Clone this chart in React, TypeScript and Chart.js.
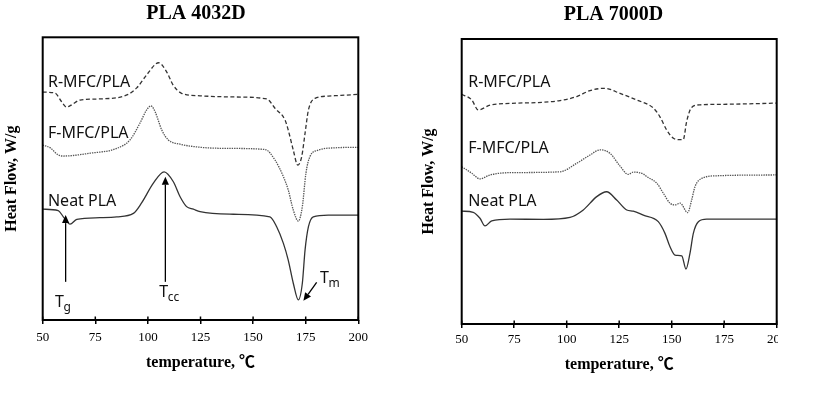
import { useEffect, useRef } from "react";
import { Chart, registerables } from "chart.js";

Chart.register(...registerables);

// ---------- PLA 4032D (temperature °C, heat flow arb. units) ----------
const t4032R = [50, 55.8, 59, 61.4, 63.5, 67.7, 77, 90, 94.7, 99.4, 105.1, 108.9, 112, 116, 124.8, 140.5, 156.5, 160.4, 165.2, 166.7, 169.1, 171.2, 173.1, 174.7, 176.3, 179.4, 185.7, 200];
const v4032R = [8.06, 8.03, 7.72, 7.53, 7.6, 7.78, 7.82, 7.96, 8.21, 8.67, 9.1, 8.78, 8.31, 8.02, 7.93, 7.89, 7.82, 7.49, 7.07, 6.72, 6.01, 5.48, 5.78, 6.61, 7.43, 7.84, 7.92, 7.98];

const t4032F = [50, 54, 56.7, 59.8, 72.5, 85.2, 91.5, 96.2, 99.4, 101.5, 103.4, 106.6, 109.7, 115.3, 124.8, 138.2, 155.7, 160.4, 164.4, 166.7, 169.1, 171.5, 173.4, 175.1, 177, 181, 188.9, 200];
const v4032F = [6.19, 6.07, 5.87, 5.8, 5.9, 6.07, 6.37, 6.96, 7.43, 7.57, 7.37, 6.72, 6.37, 6.22, 6.11, 6.07, 6.03, 5.66, 5.07, 4.6, 3.89, 3.5, 4.01, 5.19, 5.78, 6.01, 6.09, 6.11];

const t4032N = [50, 57.4, 59.8, 63, 66.2, 77.2, 85.2, 93.1, 97, 102.6, 107.7, 112.1, 115.3, 118.4, 121.6, 124.8, 140.6, 158, 161.2, 164.4, 166.7, 169.1, 171.5, 173.4, 174.7, 176.3, 178.6, 185.7, 200];
const v4032N = [3.92, 3.87, 3.65, 3.39, 3.56, 3.62, 3.65, 3.77, 4.14, 4.84, 5.24, 4.89, 4.36, 4.01, 3.92, 3.83, 3.74, 3.65, 3.3, 2.71, 2.12, 1.3, 0.71, 1.3, 2.48, 3.3, 3.65, 3.71, 3.71];

// ---------- PLA 7000D ----------
const t7000R = [50, 54.8, 57.9, 63.5, 73, 88.9, 96.8, 104.8, 111.1, 118.2, 125.4, 133.3, 141.2, 144.4, 147.6, 150.8, 154, 155.5, 157.1, 159.5, 163.5, 176.2, 200];
const v7000R = [8.06, 7.86, 7.51, 7.68, 7.74, 7.78, 7.84, 7.98, 8.19, 8.27, 8.09, 7.86, 7.58, 7.27, 6.81, 6.52, 6.47, 6.47, 7.1, 7.6, 7.69, 7.71, 7.75];

const t7000F = [50, 54.8, 58.7, 63.5, 73, 96.8, 104.8, 111.1, 115.9, 120.6, 125.4, 129.3, 131.7, 136.5, 138.1, 142.9, 146, 149.2, 151.6, 154, 157.6, 159.5, 161.1, 164.3, 171.4, 200];
const v7000F = [5.52, 5.29, 5.09, 5.23, 5.31, 5.34, 5.64, 5.93, 6.11, 5.99, 5.54, 5.25, 5.33, 5.26, 5.17, 4.94, 4.59, 4.24, 4.18, 4.24, 3.91, 4.35, 4.82, 5.11, 5.2, 5.23];

const t7000N = [50, 55.5, 58.7, 61.1, 64.3, 73, 88.9, 101.6, 107.9, 114.3, 119, 123.8, 128.6, 131.7, 136.5, 143.6, 146.8, 149.2, 151.6, 154.8, 156.8, 158.7, 160.3, 162.7, 166.7, 200];
const v7000N = [3.96, 3.92, 3.71, 3.44, 3.62, 3.68, 3.67, 3.74, 4.0, 4.47, 4.64, 4.35, 4.0, 3.96, 3.82, 3.59, 3.18, 2.71, 2.42, 2.39, 1.93, 2.48, 3.18, 3.59, 3.68, 3.68];

// ---------- Texts ----------
const seriesNames = ["R-MFC/PLA", "F-MFC/PLA", "Neat PLA"];
const panelTitles = ["PLA 4032D", "PLA 7000D"];
const xTitle = "temperature, ℃";
const yTitle = "Heat Flow, W/g";
const xMin = 50;
const xMax = 200;
const xStep = 25;

const SERIF = '"Liberation Serif", "Times New Roman", "Noto Sans CJK KR", serif';
const SANS = '"Noto Sans", "Open Sans", sans-serif';

const zip = (t: number[], v: number[]) => t.map((x, i) => ({ x, y: v[i] }));

const decorPlugin = {
  id: "decor",
  afterDatasetsDraw(chart: any, _args: any, opts: any) {
    const { ctx, chartArea: a, scales } = chart;
    const xs = scales.x;
    const ys = scales.y;
    ctx.save();
    // frame
    ctx.strokeStyle = "#000";
    ctx.lineWidth = 2;
    ctx.strokeRect(a.left, a.top, a.right - a.left, a.bottom - a.top);
    // inner part of crossing tick marks
    ctx.lineWidth = 1.5;
    for (const t of xs.ticks) {
      const px = xs.getPixelForValue(t.value);
      ctx.beginPath();
      ctx.moveTo(px, a.bottom - 3.5);
      ctx.lineTo(px, a.bottom);
      ctx.stroke();
    }
    // heading
    ctx.fillStyle = "#000";
    ctx.font = `bold 20px ${SERIF}`;
    ctx.textAlign = "center";
    ctx.textBaseline = "middle";
    ctx.fillText(opts.heading, (a.left + a.right) / 2 + opts.headingDx, opts.headingY);
    // series labels
    ctx.font = `16px ${SANS}`;
    ctx.textAlign = "left";
    ctx.textBaseline = "alphabetic";
    ctx.fillStyle = "#111";
    for (const l of opts.labels) {
      ctx.fillText(l.text, xs.getPixelForValue(l.x), ys.getPixelForValue(l.y));
    }
    // arrows
    ctx.strokeStyle = "#000";
    ctx.fillStyle = "#000";
    ctx.lineWidth = 1.3;
    for (const ar of opts.arrows || []) {
      const x1 = xs.getPixelForValue(ar.x1);
      const y1 = ys.getPixelForValue(ar.y1);
      const x2 = xs.getPixelForValue(ar.x2);
      const y2 = ys.getPixelForValue(ar.y2);
      const ang = Math.atan2(y2 - y1, x2 - x1);
      const hl = 8;
      const hw = 3.6;
      const bx = x2 - hl * Math.cos(ang);
      const by = y2 - hl * Math.sin(ang);
      ctx.beginPath();
      ctx.moveTo(x1, y1);
      ctx.lineTo(bx, by);
      ctx.stroke();
      ctx.beginPath();
      ctx.moveTo(x2, y2);
      ctx.lineTo(bx + hw * Math.sin(ang), by - hw * Math.cos(ang));
      ctx.lineTo(bx - hw * Math.sin(ang), by + hw * Math.cos(ang));
      ctx.closePath();
      ctx.fill();
    }
    // subscripted symbols
    ctx.fillStyle = "#111";
    for (const s of opts.symbols || []) {
      const px = xs.getPixelForValue(s.x);
      const py = ys.getPixelForValue(s.y);
      ctx.font = `16px ${SANS}`;
      ctx.fillText(s.main, px, py);
      const w = ctx.measureText(s.main).width;
      ctx.font = `12px ${SANS}`;
      ctx.fillText(s.sub, px + w - 0.5, py + 4);
    }
    ctx.restore();
  },
};

function makeConfig(p: any) {
  const datasets = [
    {
      label: seriesNames[0],
      data: p.r,
      borderColor: "#333",
      borderWidth: 1.3,
      borderDash: [4, 2.5],
    },
    {
      label: seriesNames[1],
      data: p.f,
      borderColor: "#555",
      borderWidth: 1.3,
      borderDash: [1.4, 1],
    },
    {
      label: seriesNames[2],
      data: p.n,
      borderColor: "#333",
      borderWidth: 1.3,
    },
  ].map((d) => ({
    ...d,
    pointRadius: 0,
    fill: false,
    cubicInterpolationMode: "monotone" as const,
  }));

  return {
    type: "line" as const,
    data: { datasets },
    plugins: [decorPlugin],
    options: {
      animation: false as const,
      responsive: false,
      events: [],
      layout: { padding: p.padding },
      plugins: {
        legend: { display: false },
        tooltip: { enabled: false },
        decor: p.decor,
      },
      scales: {
        x: {
          type: "linear" as const,
          min: xMin,
          max: xMax,
          afterFit: (s: any) => {
            s.height = p.xHeight;
            s.paddingLeft = 0;
            s.paddingRight = 0;
          },
          ticks: {
            stepSize: xStep,
            color: "#000",
            padding: p.tickPad,
            font: { family: SERIF, size: 13 },
            autoSkip: false,
            maxRotation: 0,
          },
          grid: {
            display: true,
            drawOnChartArea: false,
            drawTicks: true,
            tickLength: 4,
            color: "#000",
            lineWidth: 1.5,
          },
          border: { display: false },
          title: {
            display: true,
            text: xTitle,
            color: "#000",
            font: { family: SERIF, size: 16, weight: "bold" as const },
            padding: { top: 0, bottom: 0 },
          },
        },
        y: {
          type: "linear" as const,
          min: 0,
          max: 10,
          afterFit: (s: any) => {
            s.width = p.yWidth;
            s.paddingTop = 0;
            s.paddingBottom = 0;
          },
          ticks: { display: false },
          grid: { display: false },
          border: { display: false },
          title: {
            display: true,
            text: yTitle,
            color: "#000",
            font: { family: SERIF, size: 16, weight: "bold" as const },
            padding: { top: p.yTitlePad, bottom: 0 },
          },
        },
      },
    },
  };
}

export default function App() {
  const leftRef = useRef<HTMLCanvasElement>(null);
  const rightRef = useRef<HTMLCanvasElement>(null);

  useEffect(() => {
    const left = new Chart(
      leftRef.current as HTMLCanvasElement,
      makeConfig({
        r: zip(t4032R, v4032R),
        f: zip(t4032F, v4032F),
        n: zip(t4032N, v4032N),
        padding: { left: 0, right: 51.7, top: 37.3, bottom: 24 },
        xHeight: 52,
        yWidth: 42.7,
        yTitlePad: 2.4,
        tickPad: 5.7,
        decor: {
          heading: panelTitles[0],
          headingDx: -4.5,
          headingY: 13.5,
          labels: [
            { text: seriesNames[0], x: 52.5, y: 8.23 },
            { text: seriesNames[1], x: 52.5, y: 6.43 },
            { text: seriesNames[2], x: 52.5, y: 4.04 },
          ],
          arrows: [
            { x1: 60.9, y1: 1.35, x2: 60.9, y2: 3.71 },
            { x1: 108.3, y1: 1.35, x2: 108.3, y2: 5.07 },
            { x1: 180.2, y1: 1.33, x2: 173.9, y2: 0.68 },
          ],
          symbols: [
            { main: "T", sub: "g", x: 55.9, y: 0.47 },
            { main: "T", sub: "cc", x: 105.4, y: 0.82 },
            { main: "T", sub: "m", x: 181.8, y: 1.3 },
          ],
        },
      }) as any
    );
    const right = new Chart(
      rightRef.current as HTMLCanvasElement,
      makeConfig({
        r: zip(t7000R, v7000R),
        f: zip(t7000F, v7000F),
        n: zip(t7000N, v7000N),
        padding: { left: 0, right: 41.3, top: 39, bottom: 22 },
        xHeight: 50,
        yWidth: 51.7,
        yTitlePad: 9.4,
        tickPad: 4.2,
        decor: {
          heading: panelTitles[1],
          headingDx: -5.7,
          headingY: 15,
          labels: [
            { text: seriesNames[0], x: 53.1, y: 8.31 },
            { text: seriesNames[1], x: 53.1, y: 5.99 },
            { text: seriesNames[2], x: 53.1, y: 4.15 },
          ],
          arrows: [],
          symbols: [],
        },
      }) as any
    );
    return () => {
      left.destroy();
      right.destroy();
    };
  }, []);

  return (
    <div style={{ position: "absolute", left: 0, top: 0, width: 818, height: 396, background: "#fff", overflow: "hidden" }}>
      <canvas ref={leftRef} width={410} height={396} style={{ position: "absolute", left: 0, top: 0, width: 410, height: 396 }} />
      <div style={{ position: "absolute", left: 410, top: 0, width: 368, height: 396, overflow: "hidden" }}>
        <canvas ref={rightRef} width={408} height={396} style={{ position: "absolute", left: 0, top: 0, width: 408, height: 396 }} />
      </div>
    </div>
  );
}
